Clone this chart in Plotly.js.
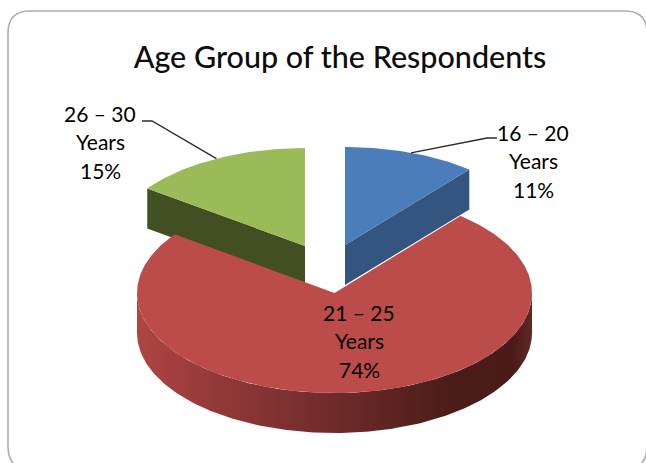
<!DOCTYPE html>
<html>
<head>
<meta charset="utf-8">
<script src="https://cdn.plot.ly/plotly-3.0.1.min.js"></script>
<style>html,body{margin:0;padding:0;background:#fff;overflow:hidden}#chart{width:646px;height:463px}</style>
</head>
<body>
<div id="chart"></div>
<script>
// Data
const categories = ['16 – 20', '21 – 25', '26 – 30'];
const values = [11, 74, 15];
const unitLabel = 'Years';
const chartTitle = 'Age Group of the Respondents';

// Presentation
const topColors = ['#4A7DBA', '#BC4C49', '#9BBB59'];
const wallColors = ['#33557F', null, '#414F22'];
const centers = [[345, 245], [334.5, 293], [305, 246]];
const radii = [[195, 98], [197.5, 100], [195, 98]];
const depth = 40;
const labelAnchors = [[533, 132], [359, 312], [100, 113]];
const lineGap = 28.7;
const textFont = 'Lato, Carlito, sans-serif';

const rad = d => d * Math.PI / 180;
function pt(i, deg, dy) {
  return [centers[i][0] + radii[i][0] * Math.sin(rad(deg)),
          centers[i][1] - radii[i][1] * Math.cos(rad(deg)) + (dy || 0)];
}
function arc(i, from, to, dy) {
  const out = [], n = Math.max(2, Math.ceil(Math.abs(to - from)));
  for (let k = 0; k <= n; k++) out.push(pt(i, from + (to - from) * k / n, dy));
  return out;
}
function area(points, color, extra) {
  return Object.assign({
    type: 'scatter', mode: 'lines', x: points.map(p => p[0]), y: points.map(p => p[1]),
    fill: 'toself', fillcolor: color, line: {width: 0},
    hoverinfo: 'skip', showlegend: false
  }, extra || {});
}
function leader(points) {
  return {type: 'scatter', mode: 'lines', x: points.map(p => p[0]), y: points.map(p => p[1]),
    line: {color: '#2b2b2b', width: 1.3}, hoverinfo: 'skip', showlegend: false};
}

// slice angles, clockwise from the top
const total = values.reduce((a, b) => a + b, 0);
const starts = [], ends = [];
values.reduce((acc, v, i) => { starts[i] = acc; ends[i] = acc + v / total * 360; return ends[i]; }, 0);
const mid = i => (starts[i] + ends[i]) / 2;

const traces = [];
// back slices: cut faces then top faces
const blueEnd = pt(0, ends[0]), greenStart = pt(2, starts[2]);
traces.push(area([centers[0], blueEnd, pt(0, ends[0], depth), [centers[0][0], centers[0][1] + depth]], wallColors[0]));
traces.push(area([centers[2], greenStart, pt(2, starts[2], depth), [centers[2][0], centers[2][1] + depth]], wallColors[2]));
traces.push(area([centers[0]].concat(arc(0, starts[0], ends[0])), topColors[0]));
traces.push(area([centers[2]].concat(arc(2, starts[2], ends[2])), topColors[2]));
// large slice: rim then top face
traces.push(area(arc(1, 90, 270).concat(arc(1, 270, 90, depth)), '#7a2f2d', {
  fillgradient: {type: 'horizontal', colorscale: [
    [0, '#AE4541'], [0.2, '#93393A'], [0.5, '#6E2B29'], [0.8, '#4B1C1A'], [0.95, '#4A1B19'], [1, '#602826']]}
}));
traces.push(area([centers[1]].concat(arc(1, starts[1], ends[1])), topColors[1]));
// leader lines end on the arc at each slice's middle angle
traces.push(leader([[497, 138], [487, 138], pt(0, mid(0))]));
traces.push(leader([[142, 121], [152, 121], pt(2, mid(2))]));

const annotations = [];
categories.forEach((c, i) => {
  [c, unitLabel, values[i] + '%'].forEach((t, j) => {
    annotations.push({xref: 'x', yref: 'y', x: labelAnchors[i][0], y: labelAnchors[i][1] + j * lineGap,
      text: t, showarrow: false, xanchor: 'center', yanchor: 'middle',
      font: {family: textFont, size: 21, color: '#000000'}});
  });
});

const axis = {visible: false, fixedrange: true, showgrid: false, zeroline: false};
const layout = {
  width: 646, height: 463, margin: {l: 0, r: 0, t: 0, b: 0, pad: 0},
  paper_bgcolor: '#fff', plot_bgcolor: '#fff',
  title: {text: chartTitle, x: 340 / 646, y: 1 - 57 / 463, xref: 'paper', yref: 'container',
    xanchor: 'center', yanchor: 'middle', font: {family: textFont, size: 30.5, weight: 500, color: '#0d0d0d'}},
  xaxis: Object.assign({range: [0, 646]}, axis),
  yaxis: Object.assign({range: [463, 0]}, axis),
  annotations,
  shapes: [{type: 'path', xref: 'x', yref: 'y', layer: 'below',
    path: 'M 8 33 Q 8 11 30 11 L 625 11 Q 647 11 647 33 L 647 446 Q 647 470 623 470 L 32 470 Q 8 470 8 446 Z',
    line: {color: '#ADADAD', width: 1.6}}]
};
Plotly.newPlot('chart', traces, layout, {displayModeBar: false, staticPlot: true});
</script>
</body>
</html>
